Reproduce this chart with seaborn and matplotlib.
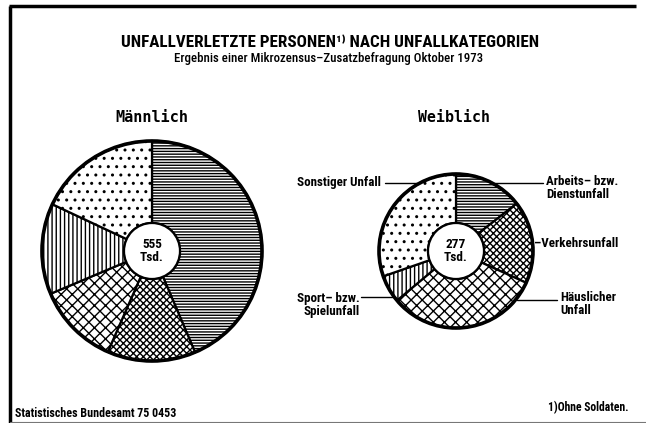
import numpy as np
import pandas as pd
import seaborn as sns
import matplotlib
matplotlib.use("Agg")
import matplotlib.pyplot as plt
from matplotlib.patches import Circle

# ---- data ----
categories = ["Arbeits- bzw. Dienstunfall", "Verkehrsunfall", "Häuslicher Unfall",
              "Sport- bzw. Spielunfall", "Sonstiger Unfall"]
male_values = [242, 72, 67, 74, 100]      # Tsd.
female_values = [40, 48, 89, 16, 84]      # Tsd.
male_total = "555"
female_total = "277"
hatches = ["------", "xxxxx", "xxx", "||||", ".."]

sns.set_theme(style="white")
plt.rcParams['hatch.linewidth'] = 1.0
plt.rcParams['text.color'] = 'black'
COND = ['Roboto Condensed', 'DejaVu Sans']
MONO = ['DejaVu Sans Mono', 'DejaVu Sans']
plt.rcParams['font.family'] = COND

W, H = 646, 423
fig = plt.figure(figsize=(W / 100, H / 100), dpi=100)
ax = fig.add_axes([0, 0, 1, 1])


def Y(y):
    return H - y


def donut(values, cx, cy, r, hole, total):
    df = pd.DataFrame({"cat": categories, "val": values})
    ax.pie(df["val"], center=(cx, Y(cy)), radius=r, startangle=90,
           counterclock=False, colors=["white"] * len(df),
           hatch=hatches,
           wedgeprops=dict(width=r - hole, edgecolor="black", linewidth=1.6),
           frame=True)
    ax.add_patch(Circle((cx, Y(cy)), r, fill=False, ec="black", lw=2.6, zorder=5))
    ax.add_patch(Circle((cx, Y(cy)), hole, fc="white", ec="black", lw=1.6, zorder=5))
    ax.text(cx, Y(cy), f"{total}\nTsd.", ha="center", va="center", fontsize=9.5,
            fontweight="bold", family=COND, linespacing=0.95, zorder=6, color="black")


MC = (152, 251, 110, 28)
FC = (456, 251, 77, 28)
donut(male_values, *MC, male_total)
donut(female_values, *FC, female_total)

ax.set_xlim(0, W)
ax.set_ylim(0, H)
ax.set_aspect("equal", adjustable="datalim")
ax.set_axis_off()

# frame
ax.plot([10, 10], [Y(6), Y(423)], color="black", lw=2.5, solid_capstyle="butt")
ax.plot([9, 636], [Y(6), Y(6)], color="black", lw=2.5, solid_capstyle="butt")
ax.plot([10, 646], [Y(421.5), Y(421.5)], color="#777777", lw=0.8)

fits = []  # (text, target width)


def txt(x, y, s, w, ha="center", family=COND, weight="bold", ls=1.0):
    t = ax.text(x, Y(y), s, ha=ha, va="center", fontsize=10, fontweight=weight,
                family=family, linespacing=ls, color="black")
    fits.append((t, w))
    return t


# titles
txt(330, 42, "UNFALLVERLETZTE PERSONEN¹⁾ NACH UNFALLKATEGORIEN", 414)
txt(329, 58, "Ergebnis einer Mikrozensus–Zusatzbefragung Oktober 1973", 308, weight="medium")
txt(151.5, 117.5, "Männlich", 73, family=MONO)
txt(454, 117.5, "Weiblich", 72, family=MONO)

# labels for the female chart
cx, cy, r = FC[0], FC[1], FC[2]


def edge_x(y, side):
    dy = y - cy
    return cx + side * np.sqrt(max(r * r - dy * dy, 0))


lab = txt(381, 182, "Sonstiger Unfall", 84, ha="right")
others = [
    ax.text(546, Y(188), "Arbeits– bzw.\nDienstunfall", ha="left", va="center"),
    ax.text(edge_x(243, 1) + 1, Y(243), "–Verkehrsunfall", ha="left", va="center"),
    ax.text(560, Y(304), "Häuslicher\nUnfall", ha="left", va="center"),
    ax.text(360, Y(305), "Sport– bzw.\nSpielunfall", ha="right", va="center"),
]
ax.plot([385, edge_x(183, -1) - 3], [Y(183), Y(183)], color="black", lw=1)
ax.plot([edge_x(183, 1) + 3, 543], [Y(183), Y(183)], color="black", lw=1)
ax.plot([edge_x(300, 1) + 2, 557], [Y(300), Y(300)], color="black", lw=1)
ax.plot([361, edge_x(297, -1) - 2], [Y(297), Y(297)], color="black", lw=1)

# footer
txt(15, 413, "Statistisches Bundesamt 75 0453", 162, ha="left")
txt(628, 407.5, "1)Ohne Soldaten.", 81, ha="right")

fig.canvas.draw()
rend = fig.canvas.get_renderer()
for t, w in fits:
    bb = t.get_window_extent(renderer=rend)
    t.set_fontsize(t.get_fontsize() * w / bb.width)
for t in others:
    t.set_fontsize(lab.get_fontsize())
    t.set_fontweight("bold")
    t.set_family(COND)
    t.set_linespacing(1.0)
    t.set_color("black")

fig.savefig("out.png", dpi=100)
